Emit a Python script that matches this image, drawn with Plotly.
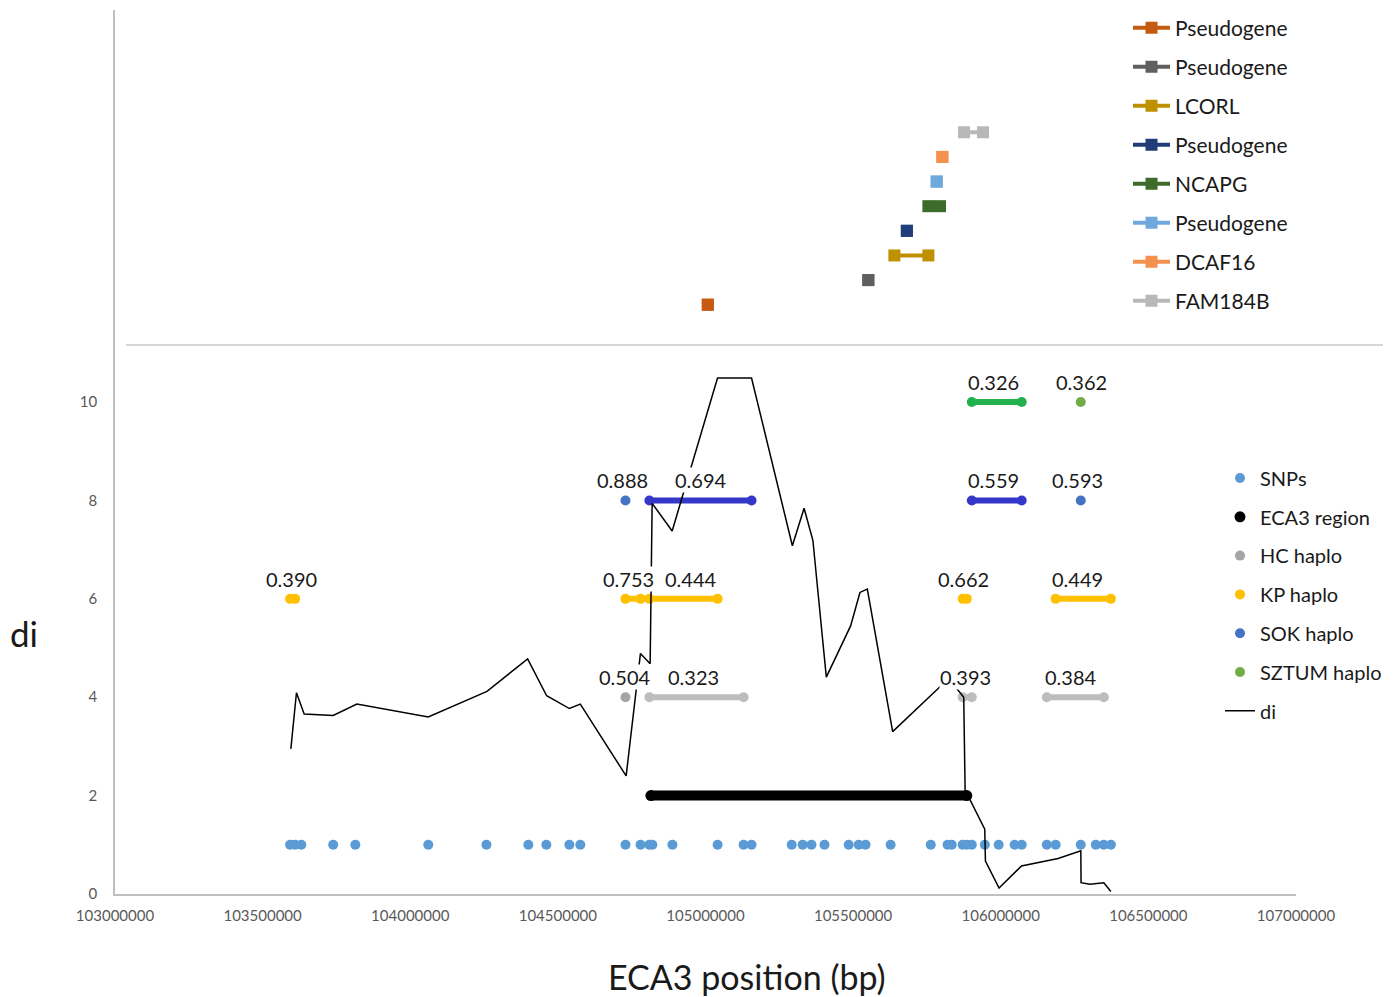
import plotly.graph_objects as go

# ---------------- gene track (upper panel) ----------------
gene_names = ["Pseudogene", "Pseudogene", "LCORL", "Pseudogene", "NCAPG",
              "Pseudogene", "DCAF16", "FAM184B"]
gene_start = [105007800, 105551500, 105639700, 105682000, 105754900,
              105783100, 105802400, 105875600]
gene_end = [105007800, 105551500, 105754900, 105682000, 105794200,
            105783100, 105802400, 105940000]
gene_rank = [1, 2, 3, 4, 5, 6, 7, 8]
gene_colors = ["#c55a11", "#5f5f5f", "#bf9000", "#203d7a", "#3d6b2a",
               "#6fa8dc", "#f4914f", "#b8b8b8"]

# ---------------- SNP positions ----------------
snp_pos = [103593000, 103610000, 103631000, 103739000, 103814000, 104061000,
           104258000, 104400000, 104461000, 104539000, 104576000, 104729000,
           104780000, 104810000, 104820000, 104888000, 105041000, 105129000,
           105156000, 105292000, 105329000, 105359000, 105403000, 105485000,
           105519000, 105542000, 105627000, 105763000, 105820000, 105834000,
           105871000, 105885000, 105902000, 105946000, 105993000, 106047000,
           106071000, 106156000, 106186000, 106271000, 106322000, 106349000,
           106373000]
snp_level = 1

# ---------------- di statistic ----------------
di_pos = [103595600, 103614600, 103640700, 103739000, 103819300, 104061000,
          104260000, 104397600, 104462000, 104539000, 104576000, 104731200,
          104779700, 104812500, 104819300, 104887100, 105040700, 105155900,
          105294200, 105333900, 105363700, 105409200, 105491500, 105523100,
          105548100, 105633900, 105778300, 105823700, 105874600, 105879700,
          105894900, 105945800, 105948100, 105994200, 106070200, 106194200,
          106271200, 106272000, 106301700, 106349200, 106372900]
di_val = [2.95, 4.09, 3.66, 3.63, 3.86, 3.60, 4.12, 4.78, 4.03, 3.77, 3.86,
          2.40, 4.89, 4.68, 7.94, 7.38, 10.49, 10.49, 7.08, 7.84, 7.19, 4.41,
          5.45, 6.13, 6.20, 3.30, 4.12, 4.38, 4.00, 1.95, 1.93, 1.32, 0.67,
          0.12, 0.57, 0.72, 0.88, 0.23, 0.20, 0.23, 0.05]

# ---------------- ECA3 region ----------------
eca3_pos = [104815000, 105885000]
eca3_level = 2

# ---------------- haplotype blocks (SNP positions per block) ----------------
hc_blocks = [[104729000], [104810000, 105129000], [105871000, 105902000],
             [106156000, 106349000]]
kp_blocks = [[103593000, 103610000], [104729000, 104780000, 104810000, 105041000],
             [105871000, 105885000], [106186000, 106373000]]
sok_blocks = [[104729000], [104810000, 105156000], [105902000, 106071000],
              [106271000]]
sztum_blocks = [[106271000], [105902000, 106071000]]

hc_level, kp_level, sok_level, sztum_level = 4, 6, 8, 10

# haplotype frequency labels
hc_labels = ["0.504", "0.323", "0.393", "0.384"]
hc_label_pos = [104728800, 104959300, 105881400, 106237300]
kp_labels = ["0.390", "0.753", "0.444", "0.662", "0.449"]
kp_label_pos = [103596600, 104739000, 104952500, 105874600, 106261000]
sok_labels = ["0.888", "0.694", "0.559", "0.593"]
sok_label_pos = [104718600, 104986400, 105976300, 106261000]
sztum_labels = ["0.326", "0.362"]
sztum_label_pos = [105976300, 106274600]

x_ticks = [103000000 + 500000 * i for i in range(9)]
y_ticks = [0, 2, 4, 6, 8, 10]

FONT = "Lato"
TXT = "#1a1a1a"

# page geometry (pixels)
L, R, T, B = 115, 104, 10, 103
W, H = 1400, 997
pw, ph = W - L - R, H - T - B


def px_x(px):
    return (px - L) / pw


def px_y(py):
    return (H - B - py) / ph


fig = go.Figure()

# gene track
for i, name in enumerate(gene_names):
    fig.add_trace(go.Scatter(
        x=[gene_start[i], gene_end[i]], y=[gene_rank[i], gene_rank[i]],
        mode="lines+markers", name=name, xaxis="x", yaxis="y2",
        line=dict(color=gene_colors[i], width=4),
        marker=dict(symbol="square", size=12, color=gene_colors[i]),
        legend="legend", legendgroup="g%d" % i,
    ))

# SNPs
fig.add_trace(go.Scatter(
    x=snp_pos, y=[snp_level] * len(snp_pos), mode="markers", name="SNPs",
    marker=dict(size=10, color="#5b9bd5"),
    legend="legend2", legendgroup="snp",
))

# ECA3 region
fig.add_trace(go.Scatter(
    x=eca3_pos, y=[eca3_level] * 2, mode="lines", showlegend=False,
    line=dict(color="#000000", width=10), hoverinfo="skip",
))
fig.add_trace(go.Scatter(
    x=eca3_pos, y=[eca3_level] * 2, mode="markers", name="ECA3 region",
    marker=dict(size=11, color="#000000"),
    legend="legend2", legendgroup="eca3",
))


def add_haplo(blocks, level, name, line_color, single_color, seg_color, group):
    lx, ly = [], []
    mx, mc = [], []
    for b in blocks:
        if len(b) > 1:
            lx += b + [None]
            ly += [level] * len(b) + [None]
        mx += b
        mc += [single_color if len(b) == 1 else seg_color] * len(b)
    fig.add_trace(go.Scatter(
        x=lx, y=ly, mode="lines", showlegend=False, hoverinfo="skip",
        line=dict(color=line_color, width=6), connectgaps=False,
    ))
    fig.add_trace(go.Scatter(
        x=mx, y=[level] * len(mx), mode="markers", name=name,
        marker=dict(size=10, color=mc),
        legend="legend2", legendgroup=group,
    ))


add_haplo(hc_blocks, hc_level, "HC haplo", "#bdbdbd", "#a5a5a5", "#bdbdbd", "hc")
add_haplo(kp_blocks, kp_level, "KP haplo", "#ffc000", "#ffc000", "#ffc000", "kp")
add_haplo(sok_blocks, sok_level, "SOK haplo", "#3338c8", "#4472c4", "#3338c8", "sok")
add_haplo(sztum_blocks, sztum_level, "SZTUM haplo", "#22b14c", "#70ad47", "#22b14c", "sztum")

# di line
fig.add_trace(go.Scatter(
    x=di_pos, y=di_val, mode="lines", name="di",
    line=dict(color="#000000", width=1.5),
    legend="legend2", legendgroup="di",
))

# frequency labels above haplotype blocks
annotations = []
for labels, pos, level in [(hc_labels, hc_label_pos, hc_level),
                           (kp_labels, kp_label_pos, kp_level),
                           (sok_labels, sok_label_pos, sok_level),
                           (sztum_labels, sztum_label_pos, sztum_level)]:
    for t, p in zip(labels, pos):
        annotations.append(dict(
            x=p, y=level, xref="x", yref="y", text=t, showarrow=False,
            yshift=20, bgcolor="#ffffff", borderpad=0,
            font=dict(family=FONT, size=20, color=TXT),
        ))

# axis titles
annotations.append(dict(
    x=px_x(747), y=px_y(976), xref="paper", yref="paper",
    xanchor="center", yanchor="middle", text="ECA3 position (bp)",
    showarrow=False, font=dict(family=FONT, size=34, color=TXT),
))
annotations.append(dict(
    x=px_x(24), y=px_y(633), xref="paper", yref="paper",
    xanchor="center", yanchor="middle", text="di",
    showarrow=False, font=dict(family=FONT, size=35, color=TXT),
))

split = px_y(345)

fig.update_layout(
    width=W, height=H, autosize=False,
    margin=dict(l=L, r=R, t=T, b=B, pad=0, autoexpand=False),
    paper_bgcolor="#ffffff", plot_bgcolor="#ffffff",
    font=dict(family=FONT, color=TXT),
    xaxis=dict(
        range=[103000000, 107000000], tickvals=x_ticks, tickformat="d",
        showgrid=False, zeroline=False, showline=True, linecolor="#bfbfbf",
        linewidth=1.5, ticks="", ticklabelstandoff=7,
        tickfont=dict(family=FONT, size=15, color="#595959"),
        anchor="y",
    ),
    yaxis=dict(
        domain=[0, split], range=[0, 11.16], tickvals=y_ticks,
        showgrid=False, zeroline=False, showline=True, linecolor="#bfbfbf",
        linewidth=1.5, ticks="", ticklabelstandoff=13,
        tickfont=dict(family=FONT, size=15, color="#595959"),
    ),
    yaxis2=dict(
        domain=[split, 1], range=[-0.636, 12.965], anchor="x",
        showgrid=False, zeroline=False, showline=True, linecolor="#bfbfbf",
        linewidth=1.5, showticklabels=False, ticks="",
    ),
    legend=dict(
        x=px_x(1128), y=px_y(7.5), xanchor="left", yanchor="top",
        traceorder="grouped", tracegroupgap=8.7, bgcolor="rgba(0,0,0,0)",
        itemwidth=37,
        font=dict(family=FONT, size=21, color=TXT),
    ),
    legend2=dict(
        x=px_x(1220), y=px_y(458.5), xanchor="left", yanchor="top",
        traceorder="grouped", tracegroupgap=9.8, bgcolor="rgba(0,0,0,0)",
        font=dict(family=FONT, size=20, color=TXT),
    ),
    shapes=[dict(
        type="line", xref="paper", yref="paper",
        x0=px_x(126), x1=px_x(1383), y0=split, y1=split,
        line=dict(color="#c8c8c8", width=1.5),
    )],
    annotations=annotations,
    showlegend=True,
)

fig.write_html("out.html")
